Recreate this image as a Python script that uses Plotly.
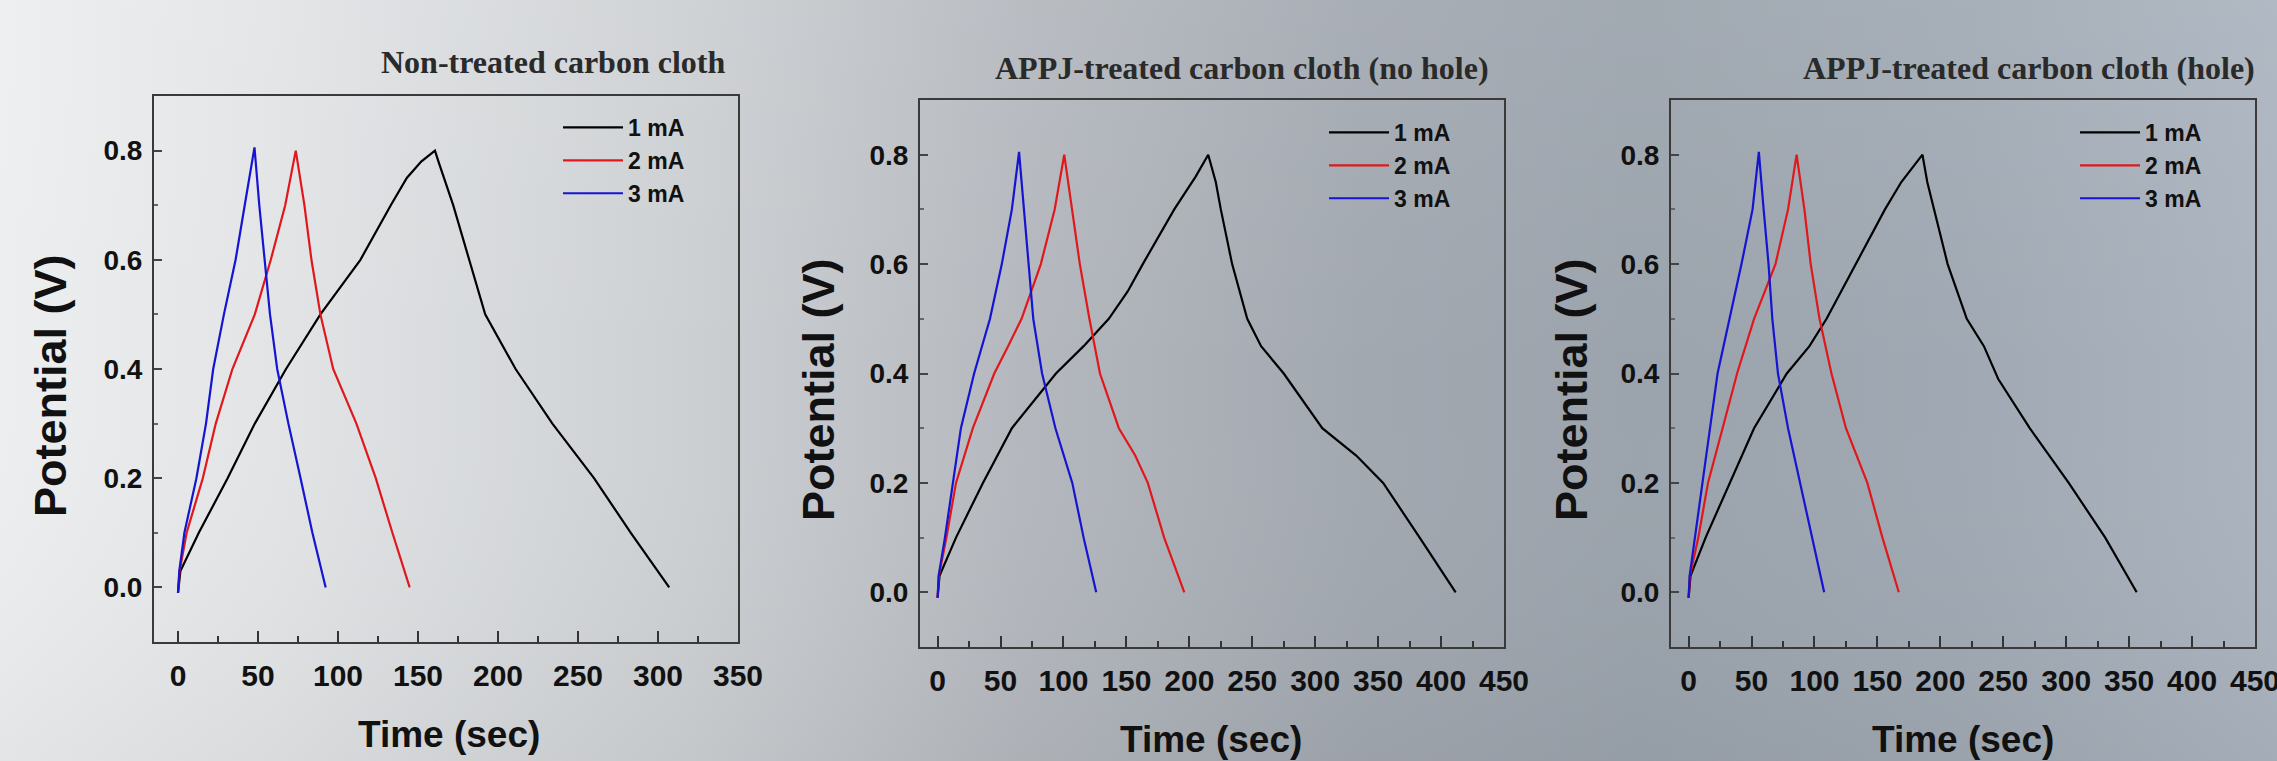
import base64
import plotly.graph_objects as go

# ---------------- data ----------------
titles = ["Non-treated carbon cloth",
          "APPJ-treated carbon cloth (no hole)",
          "APPJ-treated carbon cloth (hole)"]
currents = ["1 mA", "2 mA", "3 mA"]

# Panel 1: Non-treated
p1_1mA_t = [0, 1.5, 13, 31, 48, 67.5, 89, 114, 133, 143, 152, 160.6, 163, 172, 182, 192, 211, 234, 260, 283, 307]
p1_1mA_v = [-0.01, 0.03, 0.10, 0.20, 0.30, 0.40, 0.50, 0.60, 0.70, 0.75, 0.78, 0.80, 0.778, 0.70, 0.60, 0.50, 0.40, 0.30, 0.20, 0.10, 0.0]
p1_2mA_t = [0, 1, 5.4, 15.5, 23.6, 34, 48, 58, 67, 73.6, 79, 83.4, 89, 97, 111.5, 123.6, 134, 144.8]
p1_2mA_v = [-0.01, 0.03, 0.10, 0.20, 0.30, 0.40, 0.50, 0.60, 0.70, 0.80, 0.70, 0.60, 0.50, 0.40, 0.30, 0.20, 0.10, 0.0]
p1_3mA_t = [0, 0.8, 4, 11.5, 17.5, 22, 28.7, 36, 41.7, 47.8, 50.8, 54, 57.5, 62, 69, 76.6, 84, 92.3]
p1_3mA_v = [-0.01, 0.03, 0.10, 0.20, 0.30, 0.40, 0.50, 0.60, 0.70, 0.806, 0.70, 0.60, 0.50, 0.40, 0.30, 0.20, 0.10, 0.0]

# Panel 2: APPJ-treated (no hole)
p2_1mA_t = [0, 1.5, 14.6, 36, 59, 94, 116, 136, 151, 163, 188, 205, 215, 221, 225, 234, 246, 257, 275, 305.6, 332.6, 354, 383, 411.6]
p2_1mA_v = [-0.01, 0.03, 0.10, 0.20, 0.30, 0.40, 0.45, 0.50, 0.55, 0.60, 0.70, 0.76, 0.80, 0.75, 0.70, 0.60, 0.50, 0.45, 0.40, 0.30, 0.25, 0.20, 0.10, 0.0]
p2_2mA_t = [0, 1, 7, 14.6, 28, 45, 56, 66.7, 82, 93, 100.6, 107, 113, 120.6, 129, 144, 157, 167, 180, 196]
p2_2mA_v = [-0.01, 0.03, 0.10, 0.20, 0.30, 0.40, 0.45, 0.50, 0.60, 0.70, 0.80, 0.70, 0.60, 0.50, 0.40, 0.30, 0.25, 0.20, 0.10, 0.0]
p2_3mA_t = [0, 0.8, 5.8, 12, 18.5, 29, 41.6, 51, 59, 64.7, 68.6, 72.4, 76, 83, 93.6, 107, 116, 126]
p2_3mA_v = [-0.01, 0.03, 0.10, 0.20, 0.30, 0.40, 0.50, 0.60, 0.70, 0.805, 0.70, 0.60, 0.50, 0.40, 0.30, 0.20, 0.10, 0.0]

# Panel 3: APPJ-treated (hole)
p3_1mA_t = [0, 1.5, 13.5, 32.7, 52, 78, 96, 109.6, 132.7, 156, 169, 185.8, 189.6, 195, 205.8, 221, 234.6, 246, 271, 302, 331, 356]
p3_1mA_v = [-0.01, 0.03, 0.10, 0.20, 0.30, 0.40, 0.45, 0.50, 0.60, 0.70, 0.75, 0.80, 0.75, 0.70, 0.60, 0.50, 0.45, 0.39, 0.30, 0.20, 0.10, 0.0]
p3_2mA_t = [0, 1, 7.7, 15.4, 27, 38.5, 52, 69, 79, 85.8, 92, 97, 104, 113.5, 125, 142, 154, 167]
p3_2mA_v = [-0.01, 0.03, 0.10, 0.20, 0.30, 0.40, 0.50, 0.60, 0.70, 0.80, 0.70, 0.60, 0.50, 0.40, 0.30, 0.20, 0.10, 0.0]
p3_3mA_t = [0, 0.8, 5, 10.8, 17, 23, 32.7, 42, 50.8, 55.8, 59.6, 63.5, 66.5, 71, 79, 88.5, 98, 107.7]
p3_3mA_v = [-0.01, 0.03, 0.10, 0.20, 0.30, 0.40, 0.50, 0.60, 0.70, 0.805, 0.70, 0.60, 0.50, 0.40, 0.30, 0.20, 0.10, 0.0]

x_ranges = [[-15, 350], [-14, 450], [-14, 450]]
y_range = [-0.1, 0.9]

panels = [
    [(p1_1mA_t, p1_1mA_v), (p1_2mA_t, p1_2mA_v), (p1_3mA_t, p1_3mA_v)],
    [(p2_1mA_t, p2_1mA_v), (p2_2mA_t, p2_2mA_v), (p2_3mA_t, p2_3mA_v)],
    [(p3_1mA_t, p3_1mA_v), (p3_2mA_t, p3_2mA_v), (p3_3mA_t, p3_3mA_v)],
]

# ---------------- styling ----------------
W, H = 2277, 761
colors = ["#000000", "#e0181c", "#1414d2"]
x_domains = [[154 / W, 738 / W], [920 / W, 1504 / W], [1671 / W, 2255 / W]]
y_domains = [[1 - 642 / H, 1 - 96 / H], [1 - 647 / H, 1 - 100 / H], [1 - 647 / H, 1 - 100 / H]]
legend_pos = [(558 / W, 1 - 106 / H), (1324 / W, 1 - 111 / H), (2075 / W, 1 - 111 / H)]
title_pos = [(727 / W, 1 - 62 / H), (1491 / W, 1 - 68 / H), (2257 / W, 1 - 68 / H)]
xtitle_pos = [(449 / W, 1 - 734 / H), (1211 / W, 1 - 739 / H), (1963 / W, 1 - 739 / H)]
ytitle_pos = [(50 / W, 1 - 386 / H), (818 / W, 1 - 390 / H), (1571 / W, 1 - 390 / H)]

fig = go.Figure()
for i, series in enumerate(panels):
    xa = "x" if i == 0 else f"x{i+1}"
    ya = "y" if i == 0 else f"y{i+1}"
    lg = "legend" if i == 0 else f"legend{i+1}"
    for j, (t, v) in enumerate(series):
        fig.add_trace(go.Scatter(
            x=t, y=v, mode="lines", name=currents[j],
            line=dict(color=colors[j], width=2.2),
            xaxis=xa, yaxis=ya, legend=lg, showlegend=True))

layout = dict(
    width=W, height=H, autosize=False,
    margin=dict(l=0, r=0, t=0, b=0, autoexpand=False),
    paper_bgcolor="#a9b2bc", plot_bgcolor="rgba(0,0,0,0)",
    font=dict(family="Liberation Sans, Arial, sans-serif", color="#111111"),
)
for i in range(3):
    sx = "" if i == 0 else str(i + 1)
    layout["xaxis" + sx] = dict(
        domain=x_domains[i], anchor="y" + sx, range=x_ranges[i], automargin=False,
        tick0=0, dtick=50, ticks="inside", ticklen=11, tickwidth=2, tickcolor="#333",
        minor=dict(dtick=25, ticks="inside", ticklen=6, tickwidth=2, tickcolor="#333"),
        showline=True, linecolor="#3a3a3a", linewidth=2, mirror=True,
        showgrid=False, zeroline=False,
        tickfont=dict(family="Liberation Sans, Arial", size=30, weight="bold", color="#111"),
        ticklabelstandoff=6, ticklabeloverflow="allow",
    )
    layout["yaxis" + sx] = dict(
        domain=y_domains[i], anchor="x" + sx, range=y_range, automargin=False,
        tick0=0, dtick=0.2, tickformat=".1f", ticks="inside", ticklen=8, tickwidth=2, tickcolor="#444",
        minor=dict(dtick=0.1, ticks="inside", ticklen=4, tickwidth=2, tickcolor="#666"),
        showline=True, linecolor="#3a3a3a", linewidth=2, mirror=True,
        showgrid=False, zeroline=False,
        tickfont=dict(family="Liberation Sans, Arial", size=28, weight="bold", color="#111"),
        ticklabelstandoff=4, ticklabeloverflow="allow",
    )
    lname = "legend" if i == 0 else f"legend{i+1}"
    layout[lname] = dict(
        x=legend_pos[i][0], y=legend_pos[i][1], xanchor="left", yanchor="top",
        bgcolor="rgba(0,0,0,0)", borderwidth=0, itemwidth=60,
        font=dict(family="Liberation Sans, Arial", size=23, color="#111", weight="bold"),
        tracegroupgap=0,
    )

fig.update_layout(**layout)

annotations = []
for i in range(3):
    annotations.append(dict(
        text=titles[i], xref="paper", yref="paper",
        x=title_pos[i][0], y=title_pos[i][1], xanchor="right", yanchor="middle",
        showarrow=False,
        font=dict(family="Liberation Serif, Times New Roman, serif", size=32, weight="bold", color="#2a2a2a")))
    annotations.append(dict(
        text="Time (sec)", xref="paper", yref="paper",
        x=xtitle_pos[i][0], y=xtitle_pos[i][1], xanchor="center", yanchor="middle",
        showarrow=False,
        font=dict(family="Liberation Sans, Arial", size=37, weight="bold", color="#111")))
    annotations.append(dict(
        text="Potential (V)", xref="paper", yref="paper",
        x=ytitle_pos[i][0], y=ytitle_pos[i][1], xanchor="center", yanchor="middle",
        textangle=-90, showarrow=False,
        font=dict(family="Liberation Sans, Arial", size=45, weight="bold", color="#111")))
fig.update_layout(annotations=annotations)

# background gradient as an inline SVG image
svg = f"""<svg xmlns='http://www.w3.org/2000/svg' width='{W}' height='{H}' viewBox='0 0 {W} {H}' preserveAspectRatio='none'>
<defs>
<linearGradient id='h' x1='0' y1='0' x2='1' y2='0'>
<stop offset='0' stop-color='#eceeef'/>
<stop offset='0.12' stop-color='#e2e4e6'/>
<stop offset='0.30' stop-color='#cdd0d3'/>
<stop offset='0.45' stop-color='#b4b8be'/>
<stop offset='0.60' stop-color='#a2a8b0'/>
<stop offset='0.72' stop-color='#9ba3ac'/>
<stop offset='0.86' stop-color='#a0a9b3'/>
<stop offset='1' stop-color='#abb4bf'/>
</linearGradient>
<linearGradient id='v' x1='0' y1='0' x2='0' y2='1'>
<stop offset='0' stop-color='#ffffff' stop-opacity='0.07'/>
<stop offset='0.5' stop-color='#ffffff' stop-opacity='0'/>
<stop offset='1' stop-color='#000000' stop-opacity='0.04'/>
</linearGradient>
</defs>
<rect x='0' y='0' width='{W}' height='{H}' fill='url(#h)'/>
<rect x='0' y='0' width='{W}' height='{H}' fill='url(#v)'/>
</svg>"""
src = "data:image/svg+xml;base64," + base64.b64encode(svg.encode()).decode()
fig.add_layout_image(dict(source=src, xref="paper", yref="paper", x=0, y=1,
                          sizex=1, sizey=1, sizing="stretch", xanchor="left", yanchor="top",
                          layer="below"))

fig.write_html("out.html",
               config={"displayModeBar": False},
               post_script="document.body.style.margin='0';document.body.style.padding='0';"
                           "document.body.style.overflow='hidden';"
                           "document.documentElement.style.overflow='hidden';")
